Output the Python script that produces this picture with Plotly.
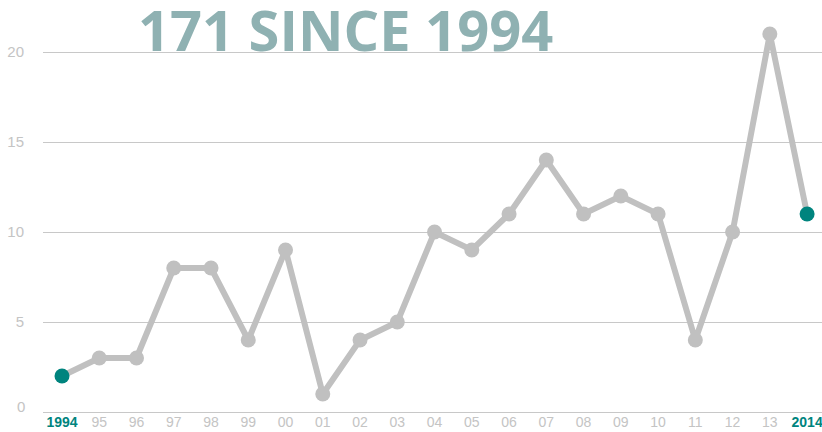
import plotly.graph_objects as go

years = list(range(1994, 2015))
tick_labels = ["1994", "95", "96", "97", "98", "99", "00", "01", "02", "03", "04",
               "05", "06", "07", "08", "09", "10", "11", "12", "13", "2014"]
values = [2, 3, 3, 8, 8, 4, 9, 1, 4, 5, 10, 9, 11, 14, 11, 12, 11, 4, 10, 21, 11]
title_text = "171 SINCE 1994"
y_ticks = [5, 10, 15, 20]

GRAY = "#c0c0c0"
TEAL = "#00847e"
LABEL = "#c4c4c4"

marker_colors = [TEAL if i in (0, len(values) - 1) else GRAY for i in range(len(values))]

ticktext = []
for i, t in enumerate(tick_labels):
    if i in (0, len(tick_labels) - 1):
        ticktext.append(f"<b><span style='color:{TEAL}'>{t}</span></b>")
    else:
        ticktext.append(t)

fig = go.Figure()
fig.add_trace(go.Scatter(
    x=years, y=values, mode="lines+markers",
    line=dict(color=GRAY, width=6),
    marker=dict(color=marker_colors, size=15, line=dict(width=0)),
    hoverinfo="skip", showlegend=False,
))

fig.update_layout(
    width=822, height=432,
    margin=dict(l=43, r=0, t=16, b=20),
    paper_bgcolor="white", plot_bgcolor="white",
    font=dict(family="Liberation Sans, Arial, sans-serif", size=14, color=LABEL),
    xaxis=dict(
        range=[1993.49, 2014.40],
        tickvals=years, ticktext=ticktext,
        showgrid=False, zeroline=False, showline=False,
        ticks="", tickfont=dict(size=14, color=LABEL),
        ticklabeloverflow="allow",
        fixedrange=True,
    ),
    yaxis=dict(
        range=[0, 22],
        tickvals=y_ticks,
        showgrid=True, gridcolor="#c8c8c8", gridwidth=1,
        zeroline=True, zerolinecolor="#c8c8c8", zerolinewidth=1,
        showline=False, ticks="",
        tickfont=dict(size=15, color=LABEL),
        ticklabelstandoff=18,
        fixedrange=True,
    ),
    annotations=[
        dict(text=title_text, xref="paper", yref="y", x=0.119, y=20,
             xanchor="left", yanchor="bottom", showarrow=False, yshift=-17,
             font=dict(family="Open Sans, sans-serif", size=56, color="#8fb1b2", weight=700)),
        dict(text="0", xref="paper", yref="y", x=0, y=0, xanchor="right",
             yanchor="middle", showarrow=False, xshift=-16, yshift=6,
             font=dict(size=15, color=LABEL)),
    ],
)

fig.write_html("out.html", post_script="document.body.style.margin='0';",
               config={"displayModeBar": False})
